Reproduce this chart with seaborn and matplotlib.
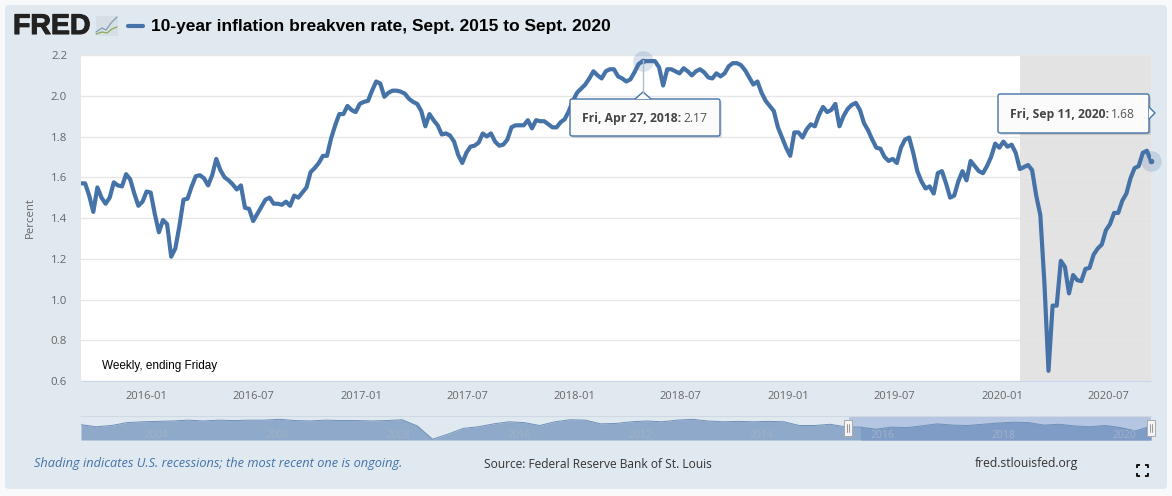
import matplotlib
matplotlib.use("Agg")
import matplotlib.pyplot as plt
import matplotlib.dates as mdates
import matplotlib.patheffects as pe
from matplotlib.patches import FancyBboxPatch, Rectangle, Polygon
import seaborn as sns
import pandas as pd

# weekly values
values_2015 = [1.57, 1.57, 1.51, 1.43, 1.55, 1.50, 1.47, 1.50, 1.575, 1.56, 1.555, 1.615, 1.59, 1.52, 1.46, 1.48]
values_2016 = [1.53, 1.525, 1.42, 1.33, 1.39, 1.37, 1.21, 1.25, 1.36, 1.49, 1.495, 1.555, 1.605, 1.61, 1.595, 1.56,
               1.61, 1.69, 1.635, 1.60, 1.585, 1.565, 1.54, 1.56, 1.45, 1.445, 1.385, 1.42, 1.455, 1.49, 1.50, 1.47,
               1.47, 1.465, 1.48, 1.46, 1.51, 1.50, 1.525, 1.55, 1.625, 1.645, 1.67, 1.705, 1.705, 1.79, 1.855, 1.91,
               1.91, 1.95, 1.93, 1.92, 1.96]
values_2017 = [1.97, 1.975, 2.025, 2.07, 2.06, 1.995, 2.015, 2.025, 2.025, 2.02, 2.01, 1.985, 1.97, 1.96, 1.925, 1.85,
               1.91, 1.88, 1.855, 1.81, 1.815, 1.805, 1.775, 1.71, 1.67, 1.72, 1.75, 1.755, 1.77, 1.815, 1.80, 1.815,
               1.775, 1.755, 1.76, 1.785, 1.845, 1.855, 1.855, 1.855, 1.88, 1.84, 1.88, 1.875, 1.875, 1.86, 1.845, 1.845,
               1.87, 1.885, 1.925, 1.975]
values_2018 = [2.015, 2.035, 2.055, 2.085, 2.12, 2.10, 2.085, 2.12, 2.13, 2.13, 2.095, 2.085, 2.07, 2.08, 2.115, 2.155,
               2.17, 2.17, 2.17, 2.17, 2.14, 2.05, 2.13, 2.13, 2.12, 2.11, 2.135, 2.12, 2.10, 2.12, 2.13, 2.115,
               2.09, 2.085, 2.11, 2.095, 2.11, 2.145, 2.16, 2.16, 2.15, 2.125, 2.09, 2.055, 2.07, 2.015, 1.975, 1.95,
               1.925, 1.845, 1.795, 1.745]
values_2019 = [1.705, 1.82, 1.82, 1.795, 1.835, 1.86, 1.85, 1.905, 1.945, 1.92, 1.93, 1.96, 1.85, 1.90, 1.935, 1.955,
               1.965, 1.93, 1.865, 1.83, 1.785, 1.745, 1.74, 1.70, 1.68, 1.69, 1.67, 1.745, 1.785, 1.795, 1.72, 1.63,
               1.58, 1.545, 1.555, 1.52, 1.62, 1.63, 1.57, 1.50, 1.51, 1.58, 1.63, 1.585, 1.68, 1.655, 1.63, 1.62,
               1.655, 1.70, 1.765, 1.745]
values_2020 = [1.775, 1.75, 1.76, 1.72, 1.64, 1.65, 1.66, 1.635, 1.51, 1.415, 1.08, 0.65, 0.97, 0.97, 1.19, 1.16,
               1.03, 1.12, 1.095, 1.09, 1.15, 1.155, 1.22, 1.25, 1.27, 1.34, 1.37, 1.425, 1.425, 1.485, 1.52, 1.595,
               1.645, 1.655, 1.72, 1.73, 1.68]
breakeven = values_2015 + values_2016 + values_2017 + values_2018 + values_2019 + values_2020

# navigator strip, quarterly from 2003
nav_values = [1.85, 1.60, 1.75, 2.10, 2.20, 2.25, 2.30, 2.40, 2.30, 2.40, 2.35, 2.40,
              2.40, 2.50, 2.35, 2.30, 2.40, 2.35, 2.35, 2.30, 2.35, 2.45, 1.70, 0.10,
              0.70, 1.40, 1.60, 1.95, 2.20, 2.10, 1.75, 2.20, 2.45, 2.40, 1.95, 2.00,
              2.20, 2.30, 2.20, 2.40, 2.50, 2.30, 2.20, 2.25, 2.20, 2.25, 2.20, 1.75,
              1.75, 1.90, 1.60, 1.55, 1.30, 1.55, 1.50, 1.70, 1.95, 1.80, 1.75, 1.90,
              2.05, 2.15, 2.10, 1.80, 1.90, 1.70, 1.60, 1.75, 1.50, 1.10, 1.68]
nav_years = ["2004", "2006", "2008", "2010", "2012", "2014", "2016", "2018", "2020"]

highlight_dates = ["2018-04-27", "2020-09-11"]
highlight_values = [2.17, 1.68]
y_ticks = [0.6, 0.8, 1.0, 1.2, 1.4, 1.6, 1.8, 2.0, 2.2]
x_ticks = ["2016-01-01", "2016-07-01", "2017-01-01", "2017-07-01", "2018-01-01",
           "2018-07-01", "2019-01-01", "2019-07-01", "2020-01-01", "2020-07-01"]

BLUE = "#4572a7"
W, H = 1172, 496

dates = pd.date_range("2015-09-11", periods=len(breakeven), freq="W-FRI")
df = pd.DataFrame({"date": dates, "value": breakeven})
nav_df = pd.DataFrame({"date": pd.date_range("2003-01-01", "2020-09-11", periods=len(nav_values)), "value": nav_values})

sns.set_style("white")
plt.rcParams["font.family"] = ["Open Sans", "DejaVu Sans"]

fig = plt.figure(figsize=(W / 100, H / 100), dpi=100, facecolor="#f8f9fa")


def box(x0, y0, x1, y1):
    # pixel box to figure fractions
    return [x0 / W, 1 - y1 / H, (x1 - x0) / W, (y1 - y0) / H]


# panel behind everything
bg = fig.add_axes([0, 0, 1, 1], zorder=0)
bg.set_xlim(0, W)
bg.set_ylim(H, 0)
bg.axis("off")
bg.add_patch(FancyBboxPatch((8, 8), 1156, 478, boxstyle="round,pad=3,rounding_size=4", fc="#e1e9f0", ec="none"))

# main chart
ax = fig.add_axes(box(81, 55, 1151, 381), zorder=1)
ax.set_facecolor("white")
ax.axvspan(pd.Timestamp("2020-02-01"), pd.Timestamp("2020-09-11"), color="#e3e3e3", lw=0, zorder=1)
ax.grid(axis="y", color="#e6e6e6", lw=1, zorder=1.5)
ax.set_axisbelow(False)
sns.lineplot(data=df, x="date", y="value", ax=ax, color=BLUE, linewidth=3, zorder=3,
             solid_joinstyle="round", errorbar=None)

# highlighted points go through the main axes
hl = pd.DataFrame({"date": pd.to_datetime(highlight_dates), "value": highlight_values})
sns.scatterplot(data=hl, x="date", y="value", ax=ax, s=220, color=BLUE, alpha=0.2, linewidth=0, zorder=4, clip_on=False)
sns.scatterplot(data=hl, x="date", y="value", ax=ax, s=16, color=BLUE, linewidth=0, zorder=5, clip_on=False)

ax.set_xlim(dates[0], dates[-1])
ax.set_ylim(0.6, 2.2)
ax.set_yticks(y_ticks)
ax.set_yticklabels([f"{v:.1f}" for v in y_ticks])
ax.set_xticks(pd.to_datetime(x_ticks))
ax.xaxis.set_major_formatter(mdates.DateFormatter("%Y-%m"))
ax.tick_params(axis="x", length=6, width=1, color="#ccd6eb", labelsize=8.0, labelcolor="#666666", pad=1)
ax.tick_params(axis="y", length=0, labelsize=8.2, labelcolor="#666666", pad=10)
ax.set_xlabel("")
ax.set_ylabel("Percent", fontsize=8.2, color="#666666", labelpad=11)
for name, spine in ax.spines.items():
    spine.set_visible(name == "bottom")
    spine.set_color("#ccd6eb")
ax.text(102, 366, "Weekly, ending Friday", transform=bg.transData, fontsize=8.5, color="black",
        family="Liberation Sans", va="center", zorder=6)

# navigator
nav = fig.add_axes(box(81, 416, 1151, 440), zorder=1)
nav.patch.set_alpha(0)
sel_start, sel_end = pd.Timestamp("2015-09-11"), pd.Timestamp("2020-09-11")
nav.axvspan(sel_start, sel_end, color="#b4c6e1", lw=0, zorder=0)
nav.fill_between(nav_df["date"], nav_df["value"], color="#8ea9c9", lw=0, zorder=1)
nav.fill_between(nav_df["date"], nav_df["value"], where=nav_df["date"] >= sel_start, interpolate=True,
                 color="#7f9cc6", lw=0, zorder=2)
sns.lineplot(data=nav_df, x="date", y="value", ax=nav, color="#6f90b8", linewidth=0.7, zorder=3, errorbar=None)
nav.set_xlim(nav_df["date"].iloc[0], nav_df["date"].iloc[-1])
nav.set_ylim(0, 2.9)
nav.set_xticks([])
nav.set_yticks([])
nav.set_xlabel("")
nav.set_ylabel("")
for name, spine in nav.spines.items():
    spine.set_visible(name == "top")
    spine.set_color("#cfd8e3")
for yr in nav_years:
    nav.text(pd.Timestamp(f"{yr}-01-01") + pd.Timedelta(days=90), 0.6, yr, fontsize=7.5, color="#a3b2c6",
             ha="center", va="center", zorder=4, clip_on=True)

# overlay in pixels: header, tooltips, footer
top = fig.add_axes([0, 0, 1, 1], zorder=5)
top.set_xlim(0, W)
top.set_ylim(H, 0)
top.axis("off")
top.patch.set_alpha(0)

top.text(13, 27, "FRED", fontsize=20.5, fontweight="bold", family="Liberation Sans", color="#222222", va="center",
         path_effects=[pe.withStroke(linewidth=0.8, foreground="#222222")])
top.add_patch(Rectangle((96, 16), 22, 20, fc="#d8dfe4", ec="none"))
top.plot([96, 102, 106, 111, 117], [32, 28, 30, 23, 17], color="#7f9cb8", lw=0.9)
top.plot([96, 102, 107, 112, 117], [34, 32, 33, 29, 27], color="#8aa85a", lw=0.9)
top.plot([128, 143], [26, 26], color=BLUE, lw=3, solid_capstyle="round")
top.text(151, 26, "10-year inflation breakven rate, Sept. 2015 to Sept. 2020", fontsize=12.55, fontweight="bold",
         family="Liberation Sans", color="black", va="center")


def tooltip(x0, y0, x1, y1, pointer, bold, val, val_x):
    # soft shadow, then the box and its pointer
    top.add_patch(FancyBboxPatch((x0 + 2, y0 + 2), x1 - x0, y1 - y0, boxstyle="round,pad=0,rounding_size=2",
                                 fc="#000000", ec="none", alpha=0.12))
    top.add_patch(FancyBboxPatch((x0, y0), x1 - x0, y1 - y0, boxstyle="round,pad=0,rounding_size=2",
                                 fc="#fbfbfb", ec=BLUE, lw=1))
    top.add_patch(Polygon(pointer, closed=False, fc="#fbfbfb", ec=BLUE, lw=1))
    mid = (y0 + y1) / 2 + 1
    top.text(x0 + 12, mid, bold, fontsize=8.7, fontweight="bold", color="#444444", va="center")
    top.text(val_x, mid, val, fontsize=8.7, color="#555555", va="center")


top.plot([643, 643], [60, 93], color="#b0bccb", lw=1)
tooltip(570, 99, 720, 136, [(635, 99), (643, 92), (651, 99)], "Fri, Apr 27, 2018:", "2.17", 683)
tooltip(998, 94, 1149, 133, [(1149, 107), (1155, 113), (1149, 119)], "Fri, Sep 11, 2020:", "1.68", 1111)

top.text(34, 464, "Shading indicates U.S. recessions; the most recent one is ongoing.", fontsize=9.2,
         style="italic", color="#4572a7", va="center")
top.text(484, 464, "Source: Federal Reserve Bank of St. Louis", fontsize=8.65, color="#333333", va="center")
top.text(975, 464, "fred.stlouisfed.org", fontsize=8.75, color="#333333", va="center")

# navigator handles
for hx in [848, 1151]:
    top.add_patch(Rectangle((hx - 4, 420), 8, 16, fc="#f4f4f4", ec="#a9a9a9", lw=0.7))
    top.plot([hx - 1, hx - 1], [424, 432], color="#888888", lw=0.6)
    top.plot([hx + 1, hx + 1], [424, 432], color="#888888", lw=0.6)

# fullscreen icon
for cx, cy, sx, sy in [(1137, 465, 1, 1), (1148, 465, -1, 1), (1137, 476, 1, -1), (1148, 476, -1, -1)]:
    top.plot([cx + 3 * sx, cx, cx], [cy, cy, cy + 3 * sy], color="#111111", lw=1.4, solid_capstyle="butt")

fig.savefig("out.png", dpi=100, facecolor=fig.get_facecolor())
plt.close(fig)
